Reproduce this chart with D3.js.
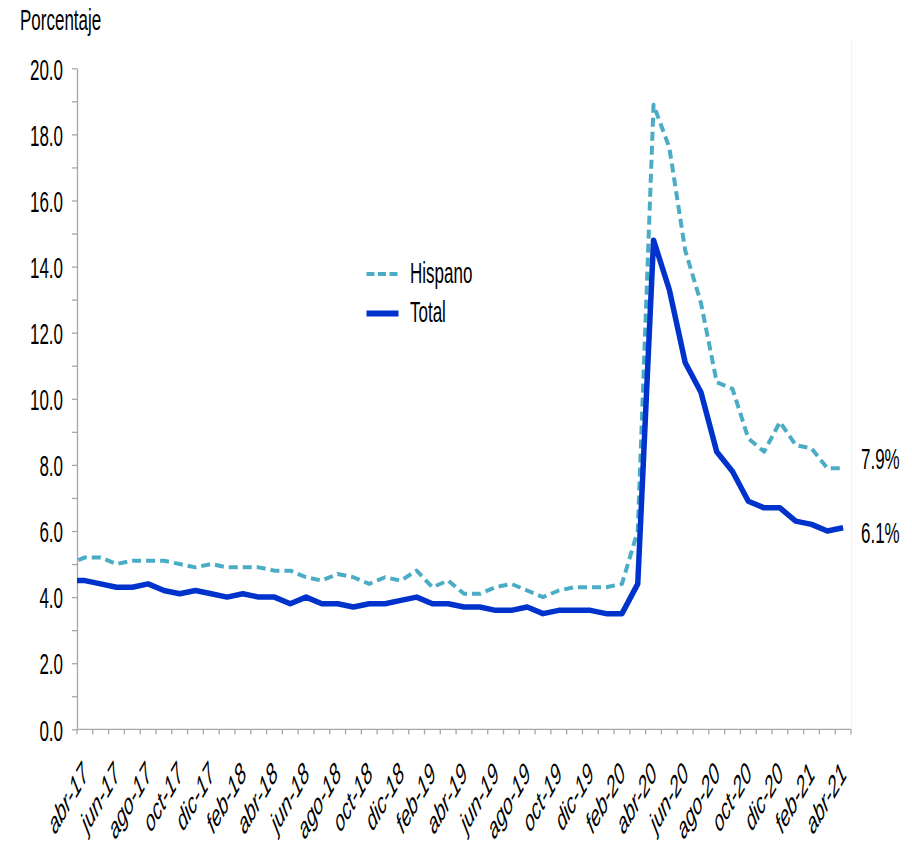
<!DOCTYPE html>
<html>
<head>
<meta charset="utf-8">
<script src="https://cdn.jsdelivr.net/npm/d3@7"></script>
<style>
  html, body { margin: 0; padding: 0; background: #fff; }
  svg { display: block; }
  text { font-family: "Liberation Sans", Arial, sans-serif; fill: #000; }
</style>
</head>
<body>
<svg id="chart" width="912" height="847"></svg>
<script>
// Monthly categories; the series start one month before the visible axis (mar-17)
const months = [
  "mar-17","abr-17","may-17","jun-17","jul-17","ago-17","sep-17","oct-17","nov-17","dic-17",
  "ene-18","feb-18","mar-18","abr-18","may-18","jun-18","jul-18","ago-18","sep-18","oct-18","nov-18","dic-18",
  "ene-19","feb-19","mar-19","abr-19","may-19","jun-19","jul-19","ago-19","sep-19","oct-19","nov-19","dic-19",
  "ene-20","feb-20","mar-20","abr-20","may-20","jun-20","jul-20","ago-20","sep-20","oct-20","nov-20","dic-20",
  "ene-21","feb-21","mar-21","abr-21"
];

// Unemployment rate, Hispanic workers (%)
const hispano = [
  5.0,5.2,5.2,5.0,5.1,5.1,5.1,5.0,4.9,5.0,
  4.9,4.9,4.9,4.8,4.8,4.6,4.5,4.7,4.6,4.4,4.6,4.5,
  4.8,4.3,4.5,4.1,4.1,4.3,4.4,4.2,4.0,4.2,4.3,4.3,
  4.3,4.4,6.0,18.9,17.6,14.5,12.9,10.5,10.3,8.8,8.4,9.3,
  8.6,8.5,7.9,7.9
];

// Unemployment rate, all workers (%)
const total = [
  4.5,4.5,4.4,4.3,4.3,4.4,4.2,4.1,4.2,4.1,
  4.0,4.1,4.0,4.0,3.8,4.0,3.8,3.8,3.7,3.8,3.8,3.9,
  4.0,3.8,3.8,3.7,3.7,3.6,3.6,3.7,3.5,3.6,3.6,3.6,
  3.5,3.5,4.4,14.8,13.3,11.1,10.2,8.4,7.8,6.9,6.7,6.7,
  6.3,6.2,6.0,6.1
];

const visibleMonths = months.slice(1);
const xLabelMonths = visibleMonths.filter((d, i) => i % 2 === 0);
const yTicks = d3.range(0, 21, 1);
const yLabelTicks = d3.range(0, 21, 2);

const colors = { Hispano: "#4bacc6", Total: "#0033cc" };

// Glyphs are drawn tall and narrow
const TEXT_STRETCH = "scale(1,1.75)";

const svg = d3.select("#chart");

const plotLeft = 77, plotRight = 851, plotTop = 68.3, plotBottom = 729.3;
const step = (plotRight - plotLeft) / visibleMonths.length;

const x = d3.scalePoint().domain(months).range([plotLeft - step, plotRight]).padding(0.5);
const y = d3.scaleLinear().domain([0, 20]).range([plotBottom, plotTop]);

const axisColor = "#a6a6a6";

svg.append("defs").append("clipPath").attr("id", "plot-clip")
  .append("rect")
  .attr("x", plotLeft).attr("y", 0)
  .attr("width", plotRight - plotLeft).attr("height", plotBottom);

// Faint right edge of the plot area
svg.append("line")
  .attr("x1", plotRight + 0.5).attr("x2", plotRight + 0.5)
  .attr("y1", 40).attr("y2", plotBottom)
  .attr("stroke", "#f4f4f4").attr("stroke-width", 1);

// Y axis
const yAxis = svg.append("g")
  .attr("transform", `translate(${plotLeft},0)`)
  .call(d3.axisLeft(y)
    .tickValues(yTicks)
    .tickSize(5)
    .tickSizeOuter(0)
    .tickPadding(9)
    .tickFormat(d => yLabelTicks.includes(d) ? d3.format(".1f")(d) : ""));
yAxis.select(".domain").attr("stroke", axisColor).attr("stroke-width", 1.3);
yAxis.selectAll(".tick line").attr("stroke", axisColor).attr("stroke-width", 1.3);
yAxis.selectAll(".tick text")
  .attr("dy", "0.36em")
  .attr("transform", TEXT_STRETCH)
  .style("font-size", "17px")
  .style("fill", "#000");

// X axis: labels every two months
const xAxis = svg.append("g")
  .attr("transform", `translate(0,${plotBottom})`)
  .call(d3.axisBottom(x)
    .tickValues(xLabelMonths)
    .tickSize(0));
xAxis.select(".domain").remove();
xAxis.selectAll(".tick text")
  .attr("x", null).attr("y", null).attr("dy", null)
  .attr("text-anchor", "end")
  .attr("transform", "translate(4,46) " + TEXT_STRETCH + " rotate(-45)")
  .style("font-size", "17px")
  .style("font-style", "italic")
  .style("fill", "#000");

svg.append("line")
  .attr("x1", plotLeft).attr("x2", plotRight)
  .attr("y1", plotBottom).attr("y2", plotBottom)
  .attr("stroke", axisColor).attr("stroke-width", 1.3);

// Tick marks between categories
const boundaries = visibleMonths.map(m => x(m) - step / 2).concat([x(months[months.length - 1]) + step / 2]);
svg.append("g").selectAll("line")
  .data(boundaries)
  .join("line")
  .attr("x1", d => d).attr("x2", d => d)
  .attr("y1", plotBottom).attr("y2", plotBottom + 5.2)
  .attr("stroke", axisColor).attr("stroke-width", 1.3);

// Axis title
svg.append("text")
  .attr("transform", "translate(20,30) " + TEXT_STRETCH)
  .style("font-size", "17px")
  .text("Porcentaje");

// Lines, clipped to the plot area
const line = d3.line()
  .x((d, i) => x(months[i]))
  .y(d => y(d));

const plot = svg.append("g").attr("clip-path", "url(#plot-clip)");

plot.append("path")
  .datum(hispano)
  .attr("d", line)
  .attr("fill", "none")
  .attr("stroke", colors.Hispano)
  .attr("stroke-width", 4)
  .attr("stroke-dasharray", "9,5")
  .attr("stroke-dashoffset", 4)
  .attr("stroke-linejoin", "round");

plot.append("path")
  .datum(total)
  .attr("d", line)
  .attr("fill", "none")
  .attr("stroke", colors.Total)
  .attr("stroke-width", 5.5)
  .attr("stroke-linejoin", "round");

// End-of-series value labels
const endLabels = [
  { value: hispano[hispano.length - 1], dy: 1 },
  { value: total[total.length - 1], dy: 15 }
];
svg.append("g").selectAll("text")
  .data(endLabels)
  .join("text")
  .attr("transform", d => `translate(861,${y(d.value) + d.dy}) ${TEXT_STRETCH}`)
  .style("font-size", "17px")
  .text(d => d3.format(".1f")(d.value) + "%");

// Legend
const legend = svg.append("g");
const legendRows = [
  { name: "Hispano", ly: 274, dash: "8,3.5", width: 4 },
  { name: "Total", ly: 313.5, dash: null, width: 6 }
];
legendRows.forEach(r => {
  legend.append("line")
    .attr("x1", 366.5).attr("x2", 398.5)
    .attr("y1", r.ly).attr("y2", r.ly)
    .attr("stroke", colors[r.name])
    .attr("stroke-width", r.width)
    .attr("stroke-dasharray", r.dash);
  legend.append("text")
    .attr("transform", `translate(410,${r.ly + 8.8}) ${TEXT_STRETCH}`)
    .style("font-size", "17px")
    .text(r.name);
});
</script>
</body>
</html>
